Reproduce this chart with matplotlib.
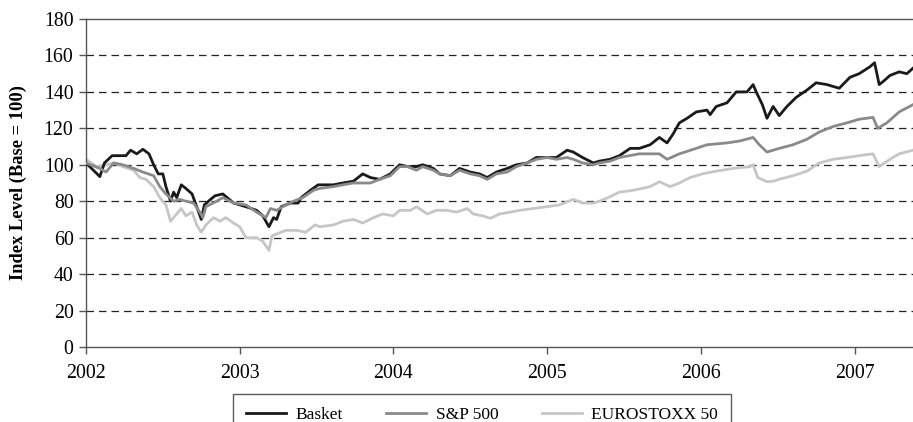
import matplotlib
matplotlib.use("Agg")
import matplotlib.pyplot as plt

# ---- data (fractional years, index level) ----
basket_t = [2002.00, 2002.09, 2002.12, 2002.17, 2002.26, 2002.29, 2002.33, 2002.37, 2002.41, 2002.44,
            2002.47, 2002.50, 2002.52, 2002.55, 2002.57, 2002.59, 2002.62, 2002.65, 2002.69, 2002.72,
            2002.75, 2002.77, 2002.81, 2002.84, 2002.89, 2002.96, 2003.04, 2003.11, 2003.15, 2003.19,
            2003.22, 2003.24, 2003.27, 2003.33, 2003.38, 2003.40, 2003.46, 2003.51, 2003.61, 2003.67,
            2003.74, 2003.80, 2003.85, 2003.91, 2003.98, 2004.04, 2004.09, 2004.15, 2004.19, 2004.26,
            2004.30, 2004.37, 2004.43, 2004.50, 2004.56, 2004.61, 2004.67, 2004.74, 2004.80, 2004.87,
            2004.93, 2005.00, 2005.06, 2005.13, 2005.17, 2005.23, 2005.30, 2005.34, 2005.41, 2005.47,
            2005.54, 2005.60, 2005.67, 2005.73, 2005.78, 2005.82, 2005.86, 2005.91, 2005.97, 2006.04,
            2006.06, 2006.10, 2006.17, 2006.23, 2006.30, 2006.34, 2006.36, 2006.40, 2006.43, 2006.47,
            2006.51, 2006.56, 2006.62, 2006.69, 2006.75, 2006.82, 2006.90, 2006.97, 2007.03, 2007.10,
            2007.13, 2007.16, 2007.19, 2007.23, 2007.29, 2007.34, 2007.38]
basket_v = [101, 93.5, 101, 105, 105, 108, 106, 108.5, 106, 100,
            95, 95, 88, 80, 85, 82, 89, 87, 84, 77,
            70, 78, 81, 83, 84, 79, 77, 75, 72, 66,
            71, 70, 77, 79, 79, 82, 86, 89, 89, 90,
            91, 95, 93, 92, 95, 100, 99, 99, 100, 98,
            95, 94, 98, 96, 95, 93, 96, 98, 100, 101,
            104, 104, 104, 108, 107, 104, 101, 102, 103, 105,
            109, 109, 111, 115, 112, 117, 123, 125.5, 129, 130,
            127.5, 132, 134, 140, 140, 144, 140, 133, 125.5, 132,
            127, 132, 137, 141, 145, 144, 142, 148, 150, 153.8,
            156, 144, 146, 149, 151, 150, 153]

sp_t = [2002.00, 2002.09, 2002.13, 2002.18, 2002.24, 2002.31, 2002.37, 2002.44, 2002.48, 2002.52,
        2002.57, 2002.61, 2002.65, 2002.70, 2002.74, 2002.76, 2002.78, 2002.85, 2002.89, 2002.96,
        2003.04, 2003.11, 2003.17, 2003.20, 2003.24, 2003.28, 2003.35, 2003.41, 2003.48, 2003.52,
        2003.61, 2003.67, 2003.74, 2003.80, 2003.85, 2003.91, 2003.98, 2004.04, 2004.09, 2004.15,
        2004.19, 2004.26, 2004.30, 2004.37, 2004.43, 2004.50, 2004.56, 2004.61, 2004.67, 2004.74,
        2004.80, 2004.87, 2004.93, 2005.00, 2005.06, 2005.13, 2005.17, 2005.23, 2005.30, 2005.34,
        2005.41, 2005.47, 2005.60, 2005.73, 2005.78, 2005.86, 2005.97, 2006.04, 2006.17, 2006.25,
        2006.34, 2006.38, 2006.43, 2006.51, 2006.60, 2006.69, 2006.77, 2006.86, 2006.95, 2007.03,
        2007.12, 2007.15, 2007.21, 2007.29, 2007.38]
sp_v = [101, 98, 96, 101, 100, 98, 96, 94, 88, 84,
        80, 81, 80, 79, 74, 71, 77, 80, 82, 79,
        78, 74, 71, 76, 75, 77, 80, 82, 86, 87,
        88, 89, 90, 90, 90, 92, 94, 99, 99, 97,
        99, 97, 95, 94, 97, 95, 94, 92, 95, 96,
        99, 101, 103, 104, 103, 104, 103, 101, 100, 101,
        102, 104, 106, 106, 103, 106, 109, 111, 112, 113,
        115, 111, 107, 109, 111, 114, 118, 121, 123, 125,
        126, 120, 123, 129, 133]

euro_t = [2002.00, 2002.07, 2002.13, 2002.18, 2002.24, 2002.31, 2002.35, 2002.39, 2002.44, 2002.48,
          2002.52, 2002.55, 2002.59, 2002.62, 2002.65, 2002.69, 2002.72, 2002.75, 2002.78, 2002.83,
          2002.87, 2002.91, 2002.96, 2003.00, 2003.04, 2003.11, 2003.15, 2003.19, 2003.21, 2003.24,
          2003.30, 2003.37, 2003.43, 2003.49, 2003.52, 2003.61, 2003.67, 2003.74, 2003.80, 2003.87,
          2003.93, 2004.00, 2004.04, 2004.11, 2004.15, 2004.22, 2004.28, 2004.35, 2004.41, 2004.48,
          2004.52, 2004.58, 2004.63, 2004.69, 2004.76, 2004.82, 2004.91, 2005.00, 2005.08, 2005.17,
          2005.23, 2005.30, 2005.34, 2005.41, 2005.47, 2005.56, 2005.67, 2005.73, 2005.80, 2005.86,
          2005.93, 2006.01, 2006.10, 2006.21, 2006.32, 2006.34, 2006.37, 2006.43, 2006.47, 2006.53,
          2006.60, 2006.69, 2006.77, 2006.86, 2006.95, 2007.03, 2007.12, 2007.16, 2007.23, 2007.29,
          2007.38]
euro_v = [103, 99, 100, 101, 99, 97, 93, 92, 88, 82,
          78, 69, 73, 76, 72, 74, 67, 63, 67, 71,
          69, 71, 68, 66, 60, 60, 58, 53, 61, 62,
          64, 64, 63, 67, 66, 67, 69, 70, 68, 71,
          73, 72, 75, 75, 77, 73, 75, 75, 74, 76,
          73, 72, 70.6, 73, 74, 75, 76, 77, 78, 81,
          79, 79, 80, 82.5, 85, 86, 88, 90.7, 88, 90,
          93, 95, 96.5, 98, 99, 100, 93, 90.7, 91, 92.5,
          94, 96.5, 101, 103, 104, 105, 106, 99, 103, 106,
          108]

series_names = ["Basket", "S&P 500", "EUROSTOXX 50"]
year_ticks = [2002, 2003, 2004, 2005, 2006, 2007]
y_ticks = [0, 20, 40, 60, 80, 100, 120, 140, 160, 180]

plt.rcParams['font.family'] = ['Liberation Serif', 'DejaVu Serif']

fig = plt.figure(figsize=(9.13, 4.22), dpi=100)
ax = fig.add_axes([86/913, 1 - 347/422, 1 - 86/913, (347 - 19)/422])

colors = ["#1a1a1a", "#8a8a8a", "#c6c6c6"]
ax.plot(basket_t, basket_v, color=colors[0], lw=2.0, label=series_names[0], zorder=3)
ax.plot(sp_t, sp_v, color=colors[1], lw=2.0, label=series_names[1], zorder=4)
ax.plot(euro_t, euro_v, color=colors[2], lw=2.0, label=series_names[2], zorder=2)

ax.set_xlim(2002.0, 2007.38)
ax.set_ylim(0, 180)
ax.set_xticks(year_ticks)
ax.set_xticklabels([str(y) for y in year_ticks])
ax.set_yticks(y_ticks)

for v in y_ticks[1:-1]:
    ax.axhline(v, color="#222222", lw=0.9, ls=(0, (6, 4)), zorder=1)

for s in ["left", "bottom", "top"]:
    ax.spines[s].set_color("#555555")
    ax.spines[s].set_linewidth(1.0)
ax.spines["right"].set_visible(False)

ax.tick_params(axis="both", direction="out", length=5, width=1, color="#555555",
               labelsize=14.3, pad=4)
ax.tick_params(axis="x", pad=7)
ax.set_ylabel("Index Level (Base = 100)", fontsize=13.3, fontweight="bold")
ax.yaxis.set_label_coords(-0.0715, 0.5)

handles = ax.get_lines()[:3]
leg = fig.legend(handles, series_names, loc="upper left", ncol=3,
                 bbox_to_anchor=(233/913, 1 - 394/422), borderaxespad=0.0,
                 frameon=True, fancybox=False,
                 edgecolor="#333333", fontsize=12.5, handlelength=2.3, columnspacing=2.5,
                 borderpad=0.75, handletextpad=0.55)
leg.get_frame().set_linewidth(1.0)

fig.savefig("out.png", dpi=100)
